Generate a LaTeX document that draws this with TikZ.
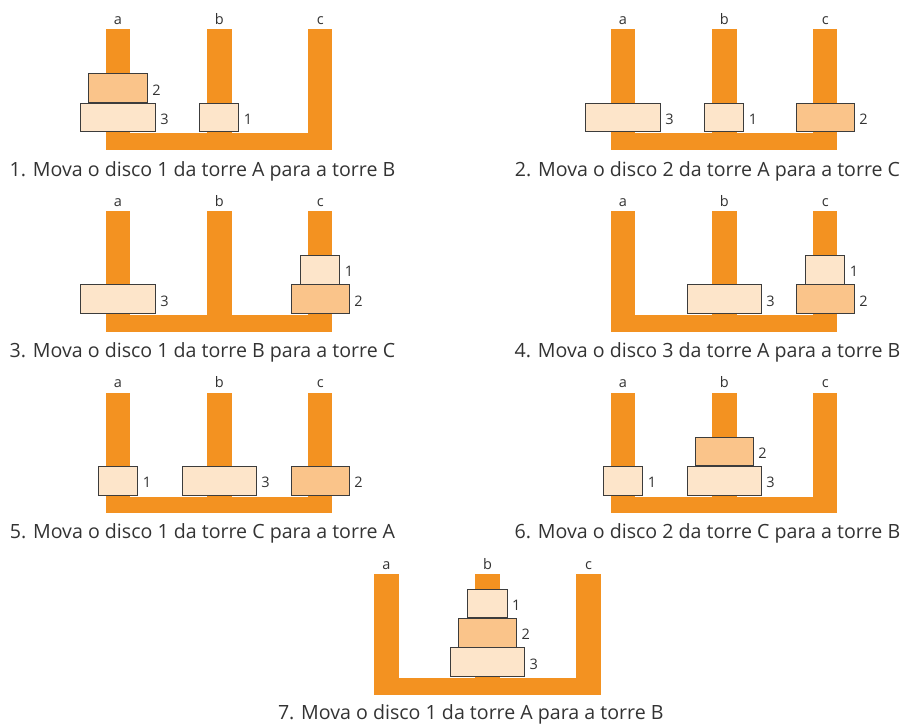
\documentclass[tikz,border=0pt]{standalone}
\usepackage{fontspec}
\setmainfont{Open Sans}
\definecolor{towerc}{HTML}{F39221}
\definecolor{dlight}{HTML}{FDE5CA}
\definecolor{ddark}{HTML}{FAC48A}
\definecolor{txt}{HTML}{333333}
\definecolor{edgec}{HTML}{3C3C3C}
\tikzset{
  towerfill/.style={fill=towerc, draw=none},
  diskbox/.style={draw=edgec, line width=0.9pt, inner sep=0, anchor=south},
  lbl/.style={font=\fontsize{14.5}{14.5}\selectfont, text=txt, inner sep=0},
  capt/.style={font=\fontsize{19.6}{19.6}\selectfont, text=txt, inner sep=0, anchor=base},
}
% #1 dx, #2 dy, #3 name, #4 disks tower/level/size, #5 caption, #6 caption baseline (row-relative)
\newcommand\hanoipanel[6]{%
  \begin{scope}[shift={(#1,#2)}]
    \fill[towerfill] (105.7,29.3) rectangle (130.3,150);
    \fill[towerfill] (207,29.3) rectangle (231.7,150);
    \fill[towerfill] (308,29.3) rectangle (332.3,150);
    \fill[towerfill] (105.7,133.3) rectangle (332.3,150);
    \node[lbl, anchor=base] (#3ta) at (118,24.3) {a};
    \node[lbl, anchor=base] (#3tb) at (219.3,24.3) {b};
    \node[lbl, anchor=base] (#3tc) at (320.2,24.3) {c};
    \foreach \t/\l/\s in {#4} {
      \pgfmathsetmacro\cx{118+101.1*\t}
      \pgfmathsetmacro\by{132-29.3*\l}
      \pgfmathsetmacro\dw{\s==1 ? 39.2 : (\s==2 ? 58.2 : 74.2)}
      \ifnum\s=2 \def\dcol{ddark}\else\def\dcol{dlight}\fi
      \node[diskbox, fill=\dcol, minimum width=\dw pt, minimum height=28.4pt] (#3d\s) at (\cx,\by) {};
      \node[lbl, anchor=base west] (#3n\s) at ([xshift=4.5pt,yshift=-7pt]#3d\s.east) {\s};
    }
    \node[capt] (#3cap) at (202.5,#6) {#5};
  \end{scope}}
\begin{document}
\begin{tikzpicture}[x=1pt,y=-1pt]
  \useasboundingbox (0,0) rectangle (905,723);
  \hanoipanel{0}{0}{p1}{0/0/3,0/1/2,1/0/1}{1. Mova o disco 1 da torre A para a torre B}{176.5}
  \hanoipanel{505}{0}{p2}{0/0/3,1/0/1,2/0/2}{2. Mova o disco 2 da torre A para a torre C}{176.5}
  \hanoipanel{0}{181.7}{p3}{0/0/3,2/0/2,2/1/1}{3. Mova o disco 1 da torre B para a torre C}{175.3}
  \hanoipanel{505}{181.7}{p4}{1/0/3,2/0/2,2/1/1}{4. Mova o disco 3 da torre A para a torre B}{175.3}
  \hanoipanel{0}{363.4}{p5}{0/0/1,1/0/3,2/0/2}{5. Mova o disco 1 da torre C para a torre A}{175.1}
  \hanoipanel{505}{363.4}{p6}{0/0/1,1/0/3,1/1/2}{6. Mova o disco 2 da torre C para a torre B}{175.1}
  \hanoipanel{268.3}{544.7}{p7}{1/0/3,1/1/2,1/2/1}{7. Mova o disco 1 da torre A para a torre B}{174.3}
\end{tikzpicture}
\end{document}
